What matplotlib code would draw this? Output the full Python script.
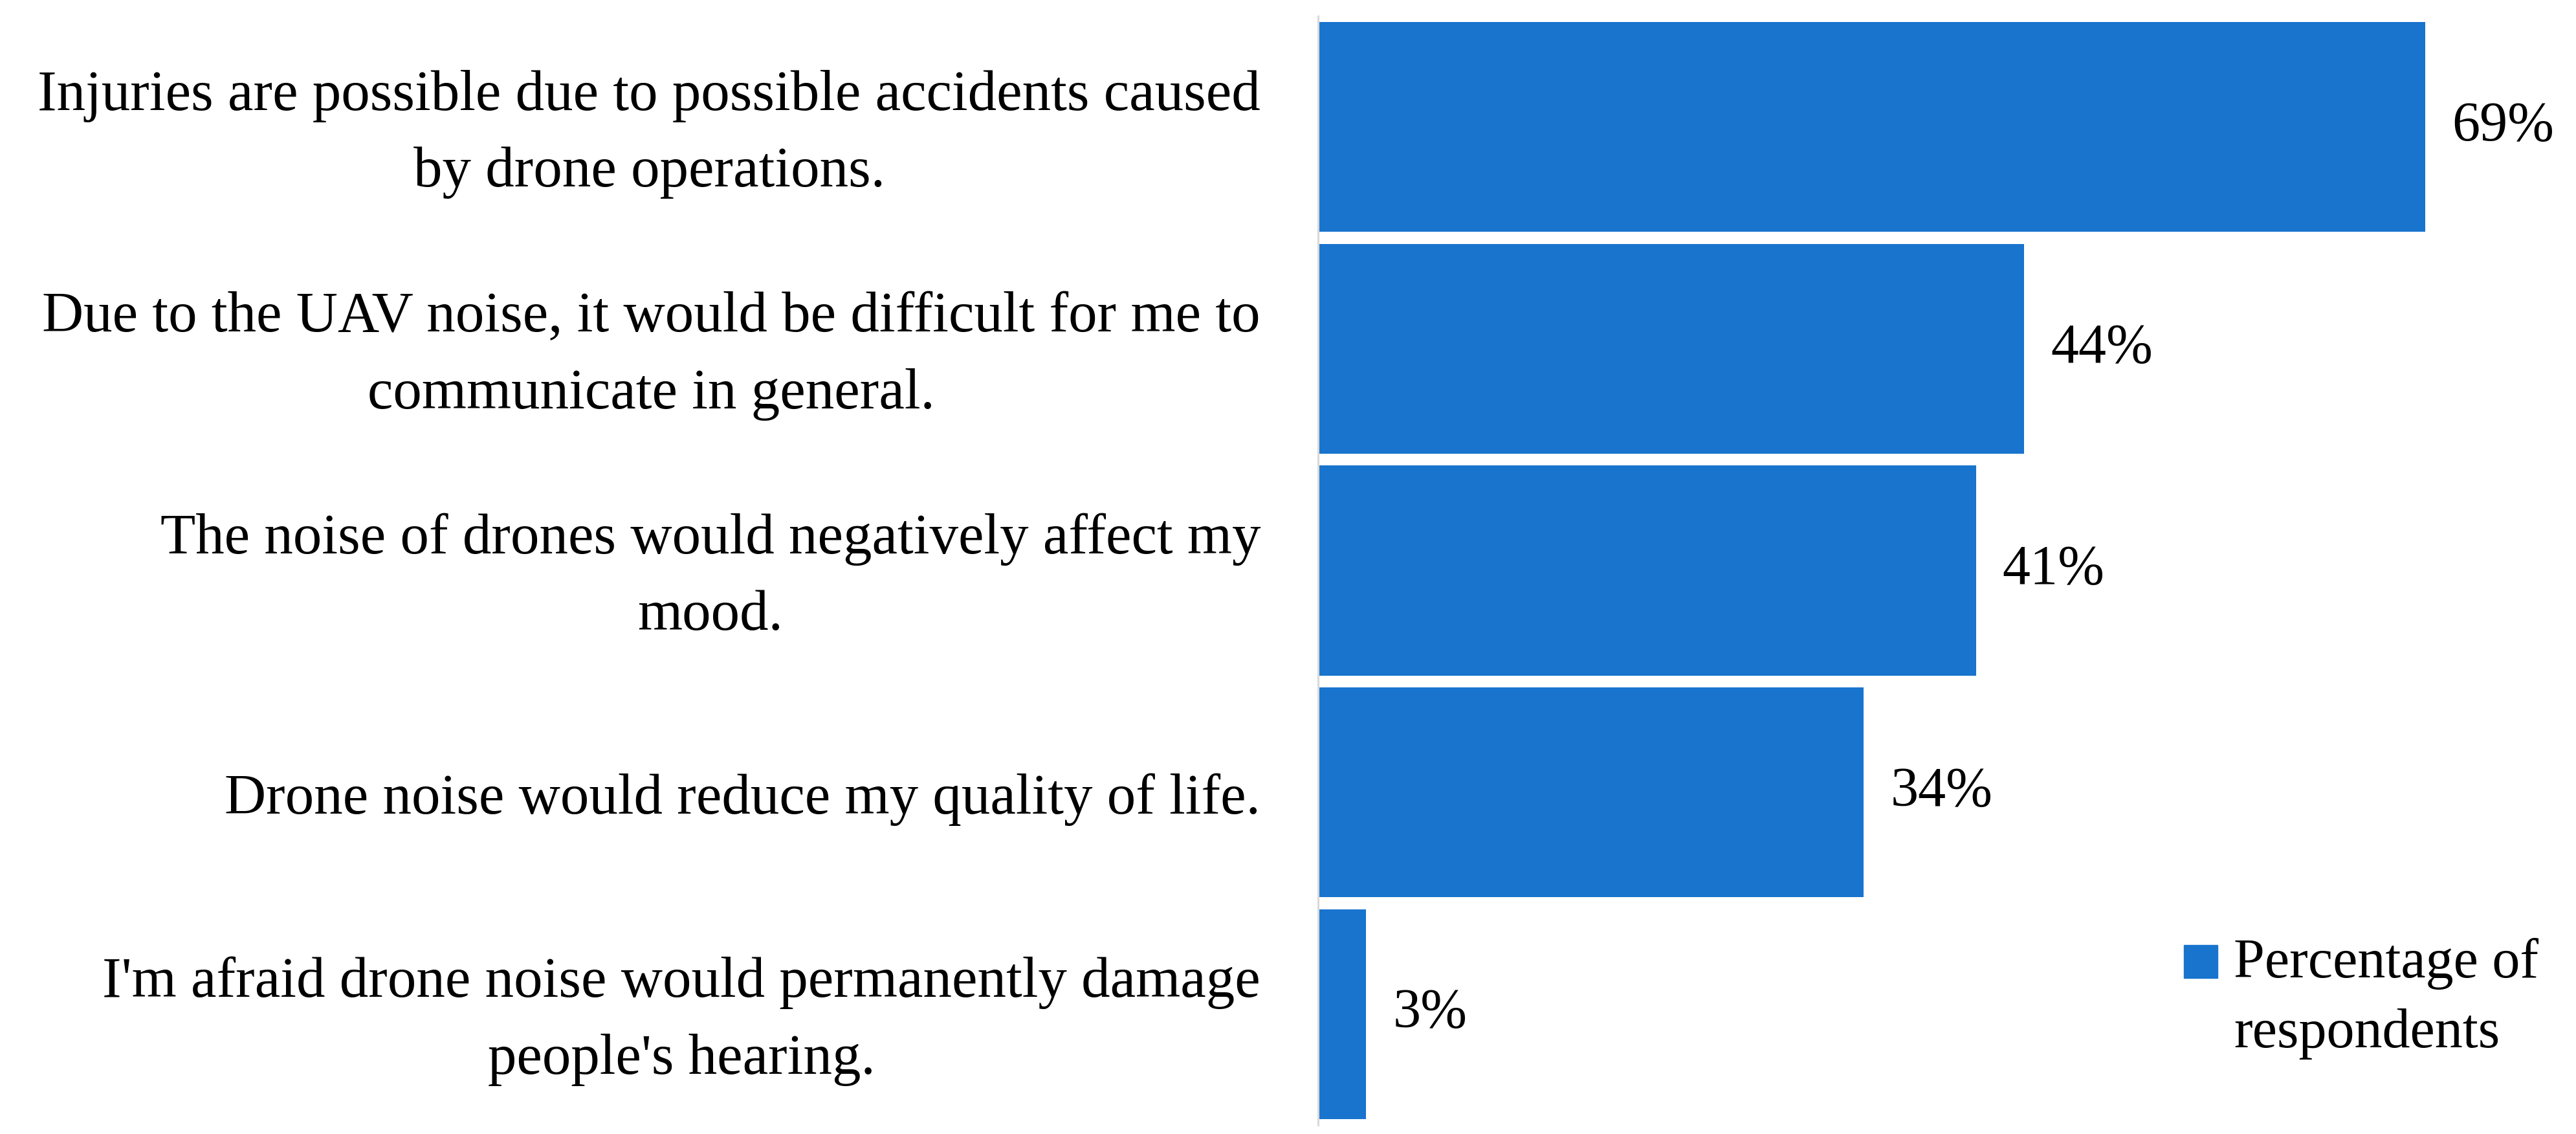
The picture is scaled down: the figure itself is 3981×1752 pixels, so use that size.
import matplotlib
matplotlib.use("Agg")

import matplotlib.pyplot as plt
import matplotlib.transforms as mtransforms
from matplotlib.patches import Rectangle

# dane z wykresu
categories = [
    "Injuries are possible due to possible accidents caused\nby drone operations.",
    "Due to the UAV noise, it would be difficult for me to\ncommunicate in general.",
    "The noise of drones would negatively affect my\nmood.",
    "Drone noise would reduce my quality of life.",
    "I'm afraid drone noise would permanently damage\npeople's hearing.",
]
values = [69, 44, 41, 34, 3]
value_labels = ["69%", "44%", "41%", "34%", "3%"]
series_name = "Percentage of\nrespondents"

W, H, DPI = 3981, 1752, 100
BLUE = "#1874CD"
FS = 62

plt.rcParams["font.family"] = ["Liberation Serif", "DejaVu Serif"]

fig = plt.figure(figsize=(W / DPI, H / DPI), dpi=DPI)
ax = fig.add_axes([2037 / W, 14 / H, 78 * 24.8 / W, (1738 - 25) / H])

ypos = list(range(len(categories)))
bars = ax.barh(ypos, values, height=0.946, color=BLUE)

ax.set_xlim(0, 78)
ax.set_ylim(len(categories) - 0.5, -0.5)
ax.set_yticks(ypos)
ax.set_yticklabels(categories, fontsize=64, multialignment="center", linespacing=1.6)
ax.tick_params(axis="y", length=0, pad=64)
# lekkie przesuniecie etykiet w dol
shift = mtransforms.ScaledTranslation(0, -8 / 72, fig.dpi_scale_trans)
for lab in ax.get_yticklabels():
    lab.set_verticalalignment("center")
    lab.set_transform(lab.get_transform() + shift)
ax.set_xticks([])

for side in ["top", "right", "bottom"]:
    ax.spines[side].set_visible(False)
ax.spines["left"].set_color("#d9d9d9")
ax.spines["left"].set_linewidth(2.2)

ax.bar_label(bars, labels=value_labels, padding=29.5, fontsize=FS)

# legenda rysowana recznie (kwadrat przy pierwszej linii)
fig.add_artist(Rectangle((3375 / W, (H - 1511) / H), 52 / W, 51 / H,
                         transform=fig.transFigure, color=BLUE))
fig.text(3452 / W, (H - 1543) / H, series_name, fontsize=FS,
         ha="left", va="center", linespacing=1.48)

fig.savefig("out.png", dpi=DPI)
